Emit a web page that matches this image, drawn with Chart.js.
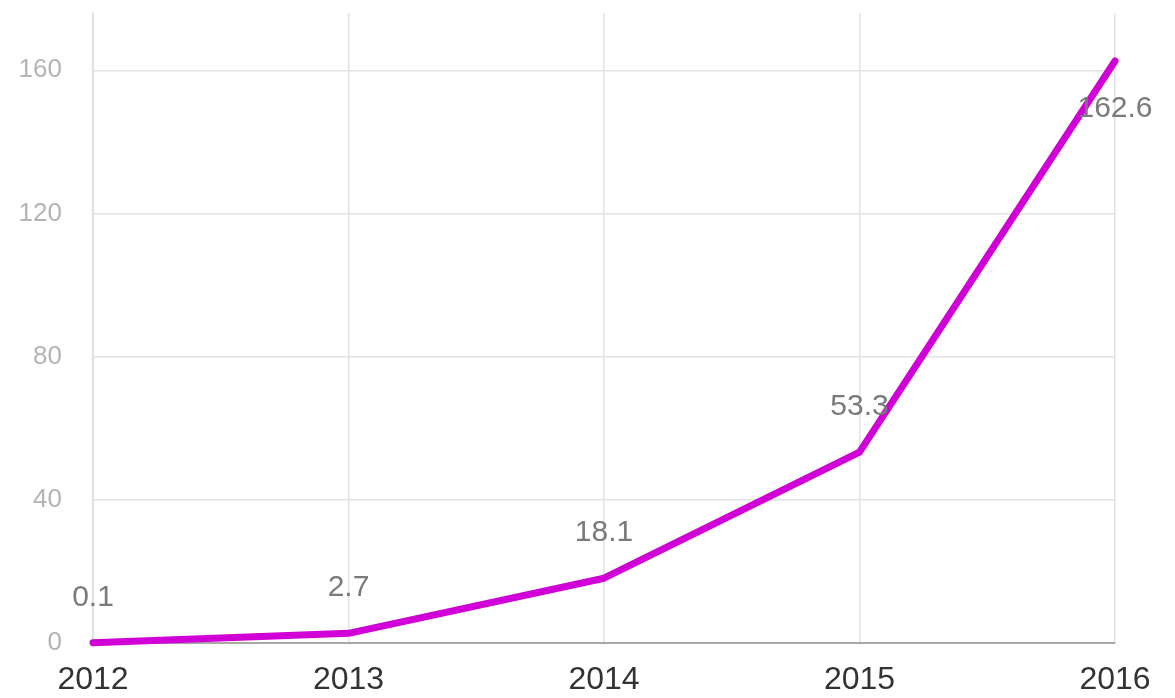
<!DOCTYPE html>
<html>
<head>
<meta charset="utf-8">
<script src="https://cdn.jsdelivr.net/npm/chart.js@4"></script>
<style>
  html, body { margin: 0; padding: 0; background: #fff; }
  #wrap { width: 1175px; height: 698px; }
</style>
</head>
<body>
<div id="wrap"><canvas id="growth"></canvas></div>
<script>
const years = ["2012", "2013", "2014", "2015", "2016"];
const values = [0.1, 2.7, 18.1, 53.3, 162.6];
const yTicks = [0, 40, 80, 120, 160];

// writes the value over each point; the last one goes under it so it stays on canvas
const pointLabels = {
  id: "pointLabels",
  afterDatasetsDraw(chart) {
    const ctx = chart.ctx;
    const meta = chart.getDatasetMeta(0);
    ctx.save();
    ctx.font = "30px 'Liberation Sans', Arial, sans-serif";
    ctx.fillStyle = "#7a7a7a";
    ctx.textAlign = "center";
    ctx.textBaseline = "alphabetic";
    meta.data.forEach((pt, i) => {
      const last = i === meta.data.length - 1;
      const y = last ? pt.y + 56 : pt.y - 37;
      ctx.fillText(String(values[i]), pt.x, y);
    });
    ctx.restore();
  }
};

new Chart(document.getElementById("growth"), {
  type: "line",
  data: {
    labels: years,
    datasets: [{
      data: values,
      borderColor: "#d000d6",
      borderWidth: 7,
      borderCapStyle: "round",
      borderJoinStyle: "round",
      pointRadius: 0,
      tension: 0,
      clip: false
    }]
  },
  options: {
    responsive: true,
    maintainAspectRatio: false,
    animation: false,
    layout: { padding: { top: 13, right: 60, left: 0, bottom: 0 } },
    plugins: { legend: { display: false }, tooltip: { enabled: false } },
    scales: {
      x: {
        offset: false,
        grid: { color: "#e2e2e2", lineWidth: 1.5, drawTicks: false },
        border: { color: "#a8a8a8", width: 2 },
        ticks: {
          padding: 18,
          color: "#333",
          font: { family: "'Liberation Sans', Arial, sans-serif", size: 32 },
          maxRotation: 0
        },
        afterFit(axis) {
          axis.height = 55;
          axis.paddingLeft = 0;
          axis.paddingRight = 0;
        }
      },
      y: {
        min: 0,
        max: 176,
        grid: { color: "#e2e2e2", lineWidth: 1.5, drawTicks: false },
        border: { color: "#dcdcdc", width: 1.5 },
        ticks: {
          padding: 31,
          color: "#b4b4b4",
          font: { family: "'Liberation Sans', Arial, sans-serif", size: 26 }
        },
        afterBuildTicks(axis) {
          axis.ticks = yTicks.map(v => ({ value: v }));
        },
        afterFit(axis) {
          axis.width = 93;
          axis.paddingTop = 0;
          axis.paddingBottom = 0;
        }
      }
    }
  },
  plugins: [pointLabels]
});
</script>
</body>
</html>
